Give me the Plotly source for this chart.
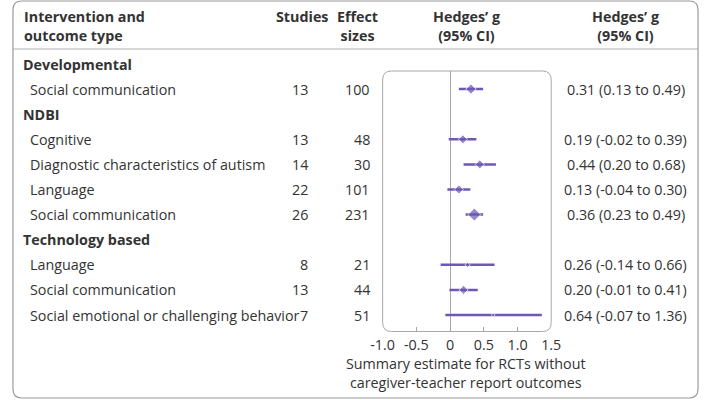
import plotly.graph_objects as go

# forest plot data
groups = ['Developmental', 'NDBI', 'NDBI', 'NDBI', 'NDBI',
          'Technology based', 'Technology based', 'Technology based']
outcomes = ['Social communication', 'Cognitive', 'Diagnostic characteristics of autism',
            'Language', 'Social communication', 'Language', 'Social communication',
            'Social emotional or challenging behavior']
studies = [13, 13, 14, 22, 26, 8, 13, 7]
effect_sizes = [100, 48, 30, 101, 231, 21, 44, 51]
hedges_g = [0.31, 0.19, 0.44, 0.13, 0.36, 0.26, 0.20, 0.64]
ci_low = [0.13, -0.02, 0.20, -0.04, 0.23, -0.14, -0.01, -0.07]
ci_high = [0.49, 0.39, 0.68, 0.30, 0.49, 0.66, 0.41, 1.36]
x_ticks = [-1.0, -0.5, 0, 0.5, 1.0, 1.5]
x_tick_labels = ['-1.0', '-0.5', '0', '0.5', '1.0', '1.5']

# styling
W, H = 709, 400
PURPLE = '#6e57b6'
TXT = '#333333'
GRID = '#a8a8a8'
FONT = 'Open Sans'
FS = 14.3
marker_px = [8, 7, 7, 7, 10, 4, 7, 3]


def px(x):
    return x / W


def py(y):
    return 1 - y / H


def rounded_rect(x0, y0, x1, y1, r):
    # pixel box -> paper path with rounded corners
    rx, ry = r / W, r / H
    X0, X1 = px(x0), px(x1)
    Y0, Y1 = py(y0), py(y1)  # Y0 top, Y1 bottom
    return (f'M {X0 + rx},{Y0} L {X1 - rx},{Y0} Q {X1},{Y0} {X1},{Y0 - ry} '
            f'L {X1},{Y1 + ry} Q {X1},{Y1} {X1 - rx},{Y1} '
            f'L {X0 + rx},{Y1} Q {X0},{Y1} {X0},{Y1 + ry} '
            f'L {X0},{Y0 - ry} Q {X0},{Y0} {X0 + rx},{Y0} Z')


# row positions: a group header takes one row, then its outcomes
row_y = []
header_rows = []
row = 0
prev = None
for grp in groups:
    if grp != prev:
        header_rows.append((grp, row))
        row += 1
        prev = grp
    row_y.append(row)
    row += 1

# plot box in pixels, rows in pixels
box_l, box_r, box_t, box_b = 382.5, 556.5, 71, 331.5
row0_px, row_step = 64, 25.1
y_top = (box_t - row0_px) / row_step
y_bot = (box_b - row0_px) / row_step


def row_paper(r):
    return py(row0_px + row_step * r)


fig = go.Figure()

fig.add_trace(go.Scatter(
    x=hedges_g,
    y=row_y,
    mode='markers',
    marker=dict(symbol='diamond', size=marker_px, color=PURPLE,
                line=dict(color='white', width=1)),
    error_x=dict(type='data', symmetric=False,
                 array=[h - g for g, h in zip(hedges_g, ci_high)],
                 arrayminus=[g - l for g, l in zip(hedges_g, ci_low)],
                 color=PURPLE, thickness=2.5, width=0),
    showlegend=False,
    hoverinfo='skip',
))

ann = []
# column headers
ann.append(dict(x=px(10), y=py(26), text='<b>Intervention and<br>outcome type</b>',
                xanchor='left', align='left'))
ann.append(dict(x=px(299), y=py(17), text='<b>Studies</b>', xanchor='center'))
ann.append(dict(x=px(357), y=py(26), text='<b>Effect<br>sizes</b>', xanchor='center'))
ann.append(dict(x=px(469), y=py(26), text='<b>Hedges’ g<br>(95% CI)</b>', xanchor='center'))
ann.append(dict(x=px(633), y=py(26), text='<b>Hedges’ g<br>(95% CI)</b>', xanchor='center'))

# group headers
for grp, r in header_rows:
    ann.append(dict(x=px(9), y=row_paper(r), text='<b>' + grp + '</b>', xanchor='left'))

# outcome rows
for i, r in enumerate(row_y):
    yp = row_paper(r)
    ann.append(dict(x=px(16), y=yp, text=outcomes[i], xanchor='left'))
    ann.append(dict(x=px(308), y=yp, text=str(studies[i]), xanchor='right'))
    ann.append(dict(x=px(372), y=yp, text=str(effect_sizes[i]), xanchor='right'))
    ann.append(dict(x=px(633.5), y=yp, xanchor='center',
                    text=f'{hedges_g[i]:.2f} ({ci_low[i]:.2f} to {ci_high[i]:.2f})'))

# axis title
ann.append(dict(x=px(469), y=py(373),
                text='Summary estimate for RCTs without<br>caregiver-teacher report outcomes',
                xanchor='center'))

for a in ann:
    a.update(xref='paper', yref='paper', yanchor='middle', showarrow=False)

shapes = [
    dict(type='path', xref='paper', yref='paper', path=rounded_rect(1, 1, 708, 398, 9),
         line=dict(color='#9a9a9a', width=1.2)),
    dict(type='line', xref='paper', yref='paper', x0=px(1), x1=px(708), y0=py(49), y1=py(49),
         line=dict(color='#b0b0b0', width=1.2)),
    dict(type='path', xref='paper', yref='paper',
         path=rounded_rect(box_l, box_t, box_r, box_b, 9),
         line=dict(color=GRID, width=1), layer='below'),
]

fig.update_layout(
    width=W, height=H,
    margin=dict(l=0, r=0, t=0, b=0),
    paper_bgcolor='white',
    plot_bgcolor='rgba(0,0,0,0)',
    font=dict(family=FONT, size=FS, color=TXT),
    annotations=ann,
    shapes=shapes,
    xaxis=dict(domain=[px(box_l), px(box_r)], range=[-1.0, 1.5],
               tickvals=x_ticks, ticktext=x_tick_labels,
               ticks='inside', ticklen=5, tickcolor=GRID, tickwidth=1,
               ticklabelstandoff=3,
               showgrid=False, showline=False,
               zeroline=True, zerolinecolor=GRID, zerolinewidth=1,
               tickfont=dict(size=FS, color=TXT), fixedrange=True),
    yaxis=dict(domain=[py(box_b), py(box_t)], range=[y_bot, y_top],
               visible=False, fixedrange=True),
)

# page body has a default margin; drop it so the figure sits at the window corner
fig.write_html('out.html', config={'displayModeBar': False},
               post_script="document.body.style.margin='0';")
